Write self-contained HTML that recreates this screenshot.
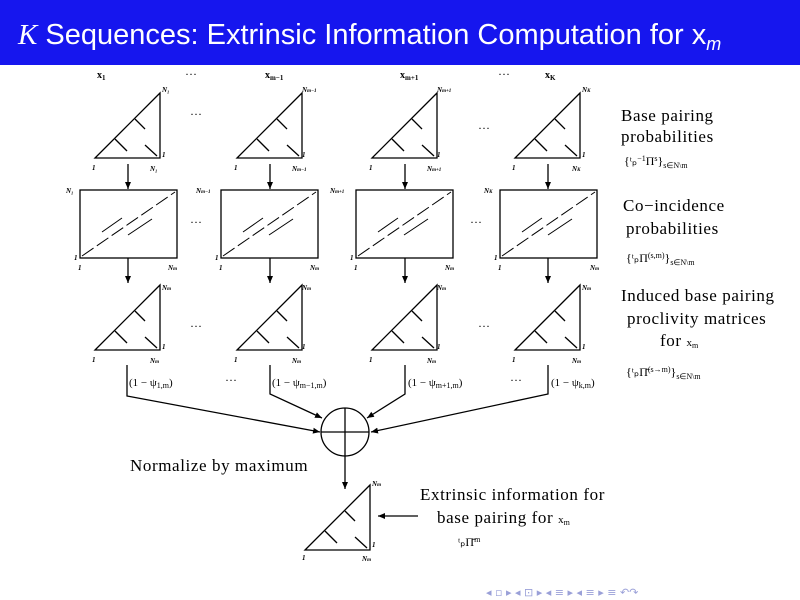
<!DOCTYPE html>
<html><head><style>
body{margin:0;background:#fff;}
svg{display:block;font-family:"Liberation Serif",serif;}
</style></head><body>
<svg width="800" height="600" viewBox="0 0 800 600" xmlns="http://www.w3.org/2000/svg">
<rect x="0" y="0" width="800" height="65" fill="#1616ee"/>
<text x="18" y="44" font-family="Liberation Sans,sans-serif" font-size="29" fill="#fff"><tspan font-family="Liberation Serif,serif" font-style="italic">K</tspan> Sequences: Extrinsic Information Computation for x<tspan font-size="18" dy="6" font-style="italic">m</tspan></text>
<defs>
<g id="tri" stroke="#000" stroke-width="1.3" fill="none">
<polygon points="0,65 65,65 65,0"/>
<line x1="20" y1="46" x2="32" y2="58"/>
<line x1="40" y1="26" x2="50" y2="36"/>
<line x1="50" y1="52" x2="62" y2="63"/>
</g>
<g id="box" stroke="#000" stroke-width="1.3" fill="none">
<rect x="0" y="0" width="97" height="68"/>
<line x1="2" y1="66" x2="95" y2="2" stroke-dasharray="14,4" stroke-width="1"/>
<line x1="22" y1="42" x2="42" y2="28" stroke-width="1"/>
<line x1="48" y1="45" x2="72" y2="29" stroke-width="1"/>
</g>
<marker id="ar" markerWidth="8" markerHeight="8" refX="7" refY="4" orient="auto" markerUnits="userSpaceOnUse"><path d="M0,1 L7,4 L0,7 z" fill="#000"/></marker>
</defs>
<g font-size="10" font-weight="bold">
<text x="97" y="78">x<tspan font-size="7" dy="2">1</tspan></text>
<text x="265" y="78">x<tspan font-size="7" dy="2">m−1</tspan></text>
<text x="400" y="78">x<tspan font-size="7" dy="2">m+1</tspan></text>
<text x="545" y="78">x<tspan font-size="7" dy="2">K</tspan></text>
</g>
<g font-size="12">
<text x="185" y="78">···</text><text x="498" y="78">···</text>
<text x="190" y="118">···</text><text x="478" y="132">···</text>
<text x="190" y="226">···</text><text x="470" y="226">···</text>
<text x="190" y="330">···</text><text x="478" y="330">···</text>
<text x="225" y="384">···</text><text x="510" y="384">···</text>
</g>
<use href="#tri" x="95" y="93"/><use href="#tri" x="237" y="93"/><use href="#tri" x="372" y="93"/><use href="#tri" x="515" y="93"/>
<use href="#box" x="80" y="190"/><use href="#box" x="221" y="190"/><use href="#box" x="356" y="190"/><use href="#box" x="500" y="190"/>
<use href="#tri" x="95" y="285"/><use href="#tri" x="237" y="285"/><use href="#tri" x="372" y="285"/><use href="#tri" x="515" y="285"/>
<use href="#tri" x="305" y="485"/>
<g stroke="#000" stroke-width="1.3" fill="none">
<line x1="128" y1="164" x2="128" y2="189" marker-end="url(#ar)"/>
<line x1="270" y1="164" x2="270" y2="189" marker-end="url(#ar)"/>
<line x1="405" y1="164" x2="405" y2="189" marker-end="url(#ar)"/>
<line x1="548" y1="164" x2="548" y2="189" marker-end="url(#ar)"/>
<line x1="128" y1="258" x2="128" y2="283" marker-end="url(#ar)"/>
<line x1="270" y1="258" x2="270" y2="283" marker-end="url(#ar)"/>
<line x1="405" y1="258" x2="405" y2="283" marker-end="url(#ar)"/>
<line x1="548" y1="258" x2="548" y2="283" marker-end="url(#ar)"/>
<polyline points="127,365 127,396 320,432" marker-end="url(#ar)"/>
<polyline points="270,365 270,394 322,418" marker-end="url(#ar)"/>
<polyline points="405,365 405,394 367,418" marker-end="url(#ar)"/>
<polyline points="548,365 548,394 371,432" marker-end="url(#ar)"/>
<circle cx="345" cy="432" r="24"/>
<line x1="321" y1="432" x2="369" y2="432"/>
<line x1="345" y1="408" x2="345" y2="456"/>
<line x1="345" y1="456" x2="345" y2="489" marker-end="url(#ar)"/>
<line x1="418" y1="516" x2="378" y2="516" marker-end="url(#ar)"/>
</g>
<g font-size="7" font-style="italic" font-weight="bold">
<text x="162" y="92">N₁</text><text x="162" y="157">1</text><text x="92" y="170">1</text><text x="150" y="171">N₁</text>
<text x="302" y="92">N<tspan font-size="5">m−1</tspan></text><text x="302" y="157">1</text><text x="234" y="170">1</text><text x="292" y="171">N<tspan font-size="5">m−1</tspan></text>
<text x="437" y="92">N<tspan font-size="5">m+1</tspan></text><text x="437" y="157">1</text><text x="369" y="170">1</text><text x="427" y="171">N<tspan font-size="5">m+1</tspan></text>
<text x="582" y="92">N<tspan font-size="5">K</tspan></text><text x="582" y="157">1</text><text x="512" y="170">1</text><text x="572" y="171">N<tspan font-size="5">K</tspan></text>
<text x="66" y="193">N₁</text><text x="74" y="260">1</text><text x="78" y="270">1</text><text x="168" y="270">N<tspan font-size="5">m</tspan></text>
<text x="196" y="193">N<tspan font-size="5">m−1</tspan></text><text x="215" y="260">1</text><text x="219" y="270">1</text><text x="310" y="270">N<tspan font-size="5">m</tspan></text>
<text x="330" y="193">N<tspan font-size="5">m+1</tspan></text><text x="350" y="260">1</text><text x="354" y="270">1</text><text x="445" y="270">N<tspan font-size="5">m</tspan></text>
<text x="484" y="193">N<tspan font-size="5">K</tspan></text><text x="494" y="260">1</text><text x="498" y="270">1</text><text x="590" y="270">N<tspan font-size="5">m</tspan></text>
<text x="162" y="290">N<tspan font-size="5">m</tspan></text><text x="162" y="349">1</text><text x="92" y="362">1</text><text x="150" y="363">N<tspan font-size="5">m</tspan></text>
<text x="302" y="290">N<tspan font-size="5">m</tspan></text><text x="302" y="349">1</text><text x="234" y="362">1</text><text x="292" y="363">N<tspan font-size="5">m</tspan></text>
<text x="437" y="290">N<tspan font-size="5">m</tspan></text><text x="437" y="349">1</text><text x="369" y="362">1</text><text x="427" y="363">N<tspan font-size="5">m</tspan></text>
<text x="582" y="290">N<tspan font-size="5">m</tspan></text><text x="582" y="349">1</text><text x="512" y="362">1</text><text x="572" y="363">N<tspan font-size="5">m</tspan></text>
<text x="372" y="486">N<tspan font-size="5">m</tspan></text><text x="372" y="547">1</text><text x="302" y="560">1</text><text x="362" y="561">N<tspan font-size="5">m</tspan></text>
</g>
<g font-size="11">
<text x="129" y="386">(1 − ψ<tspan font-size="8" dy="2">1,m</tspan><tspan dy="-2">)</tspan></text>
<text x="272" y="386">(1 − ψ<tspan font-size="8" dy="2">m−1,m</tspan><tspan dy="-2">)</tspan></text>
<text x="408" y="386">(1 − ψ<tspan font-size="8" dy="2">m+1,m</tspan><tspan dy="-2">)</tspan></text>
<text x="551" y="386">(1 − ψ<tspan font-size="8" dy="2">k,m</tspan><tspan dy="-2">)</tspan></text>
</g>
<g font-size="17" letter-spacing="0.6">
<text x="130" y="471">Normalize by maximum</text>
<text x="420" y="500">Extrinsic information for</text>
<text x="437" y="523">base pairing for <tspan font-size="11" letter-spacing="0">x<tspan font-size="8" dy="2">m</tspan></tspan></text>
<text x="458" y="546" font-size="12" letter-spacing="0">ᵗₚΠ̄<tspan font-size="8" dy="-4">m</tspan></text>
<text x="621" y="121">Base pairing</text>
<text x="621" y="142">probabilities</text>
<text x="624" y="165" font-size="12" letter-spacing="0">{ᵗₚ<tspan font-size="8" dy="-4">−1</tspan><tspan dy="4">Π</tspan><tspan font-size="8" dy="-4">s</tspan><tspan dy="4">}</tspan><tspan font-size="8" dy="3">s∈N\m</tspan></text>
<text x="623" y="211">Co−incidence</text>
<text x="626" y="234">probabilities</text>
<text x="626" y="262" font-size="12" letter-spacing="0">{ᵗₚΠ<tspan font-size="8" dy="-4">(s,m)</tspan><tspan dy="4">}</tspan><tspan font-size="8" dy="3">s∈N\m</tspan></text>
<text x="621" y="301">Induced base pairing</text>
<text x="627" y="324">proclivity matrices</text>
<text x="660" y="346">for <tspan font-size="11" letter-spacing="0">x<tspan font-size="8" dy="2">m</tspan></tspan></text>
<text x="626" y="376" font-size="12" letter-spacing="0">{ᵗₚΠ̄<tspan font-size="8" dy="-4">(s→m)</tspan><tspan dy="4">}</tspan><tspan font-size="8" dy="3">s∈N\m</tspan></text>
</g>
<g font-size="11" fill="#9aa0d8" font-family="DejaVu Sans,sans-serif">
<text x="486" y="596">◂ ▫ ▸  ◂ ⊡ ▸  ◂ ≡ ▸  ◂ ≡ ▸   ≡   ↶↷</text>
</g>
</svg>
</body></html>
